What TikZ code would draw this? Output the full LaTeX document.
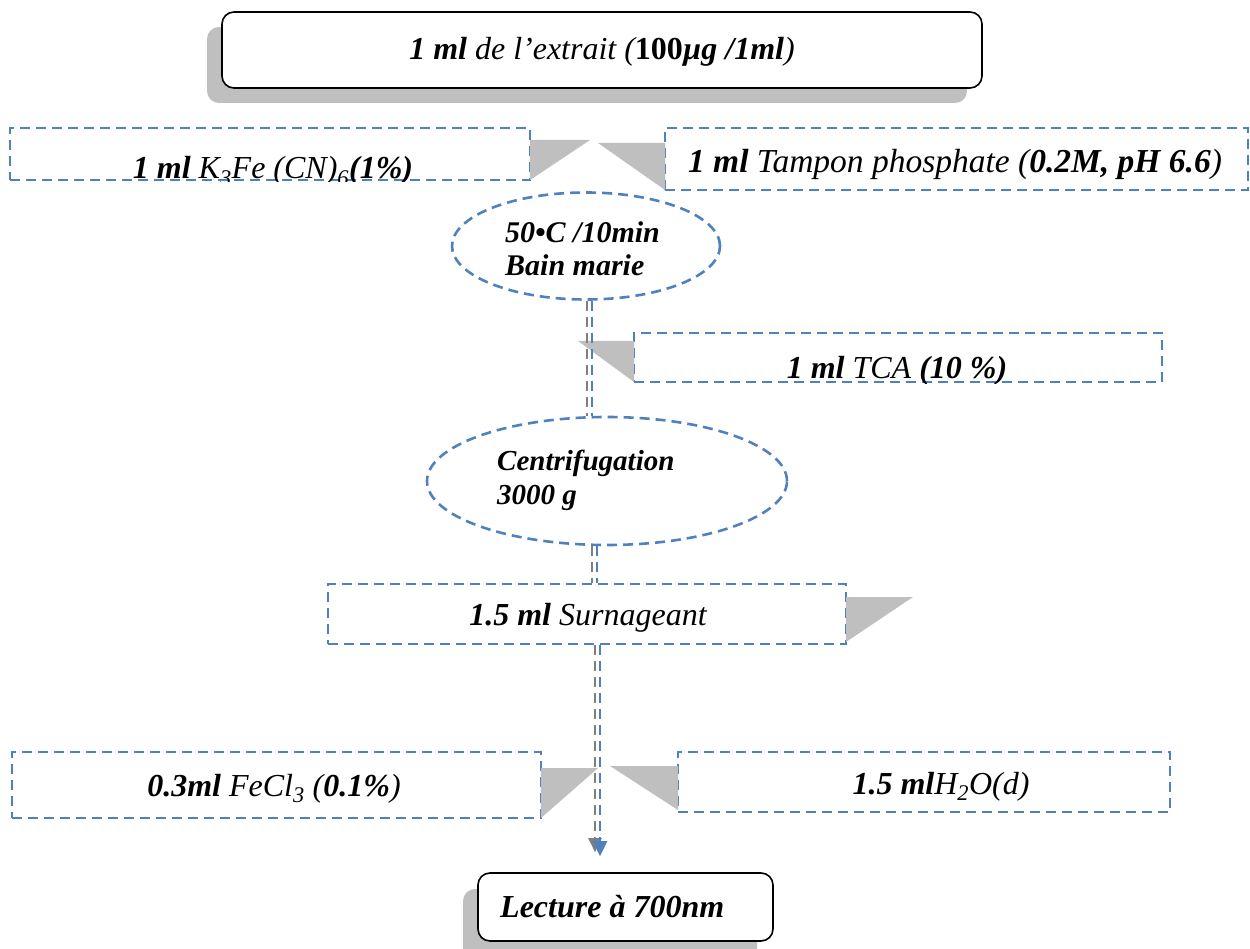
\documentclass[tikz,border=0pt]{standalone}
\usepackage{fontspec}
\setmainfont{Liberation Serif}
\usetikzlibrary{shapes.geometric,arrows.meta}
\definecolor{dblue}{HTML}{4F81BD}
\definecolor{shgray}{HTML}{BFBFBF}
\definecolor{lngray}{HTML}{7F7F7F}
\tikzset{
  dbox/.style={draw=dblue, line width=2.6pt, dash pattern=on 10pt off 6pt, rectangle, inner sep=0pt},
  dell/.style={draw=dblue, line width=2.6pt, dash pattern=on 10pt off 6pt, ellipse, inner sep=0pt},
  rbox/.style={draw=black, line width=1.6pt, rounded corners=12pt, fill=white, inner sep=0pt},
  txt/.style={inner sep=0pt, anchor=base, font=\fontsize{32}{36}\selectfont\itshape},
  etxt/.style={inner sep=0pt, align=left, font=\fontsize{30}{33}\selectfont\bfseries\itshape},
  tri/.style={fill=shgray},
  conn/.style={draw=dblue, line width=2.6pt, dash pattern=on 10pt off 6pt},
  connsh/.style={draw=lngray, line width=2.6pt, dash pattern=on 10pt off 6pt},
}
\begin{document}
\begin{tikzpicture}[x=1pt,y=-1pt]
\useasboundingbox (0,0) rectangle (1250,949);
% top box
\fill[shgray, rounded corners=12pt] (207,27) rectangle (967,103);
\node[rbox, minimum width=760pt, minimum height=76pt] (top) at (602,50) {};
\node[txt] (topt) at (602,60)
  {\textbf{1 ml} de l’extrait (\textbf{\upshape 100}\textbf{µg /1ml})};
% K3Fe box
\node[dbox, minimum width=520pt, minimum height=52pt] (k3) at (270,154) {};
\begin{scope}
  \clip (k3.north west) rectangle (k3.south east);
  \node[txt] (k3t) at (273,179) {\textbf{1 ml} K\textsubscript{3}Fe (CN)\textsubscript{6}\textbf{(1\%)}};
\end{scope}
\fill[tri] (530,140) -- (590,140) -- (530,180) -- cycle;
% Tampon box
\node[dbox, minimum width=583pt, minimum height=62pt] (tp) at (956.5,159) {};
\node[txt, font=\fontsize{33.5}{36}\selectfont\itshape] (tpt) at (955,173)
  {\textbf{1 ml} Tampon phosphate (\textbf{0.2M, pH 6.6})};
\fill[tri] (598,143) -- (665,143) -- (665,190) -- cycle;
% ellipse 1
\node[dell, minimum width=268pt, minimum height=107pt] (e1) at (586,246) {};
\node[etxt, anchor=base west] (e1t) at (505,276) {50•C /10min\\Bain marie};
% TCA box
\node[dbox, minimum width=528pt, minimum height=49pt] (tca) at (898,357.5) {};
\begin{scope}
  \clip (tca.north west) rectangle (tca.south east);
  \node[txt] (tcat) at (897,379) {\textbf{1 ml} TCA \textbf{(10 \%)}};
\end{scope}
\fill[tri] (578,341) -- (634,341) -- (634,382) -- cycle;
% ellipse 2
\node[dell, minimum width=360pt, minimum height=128pt] (e2) at (607,481) {};
\node[etxt, anchor=base west, font=\fontsize{29}{34}\selectfont\bfseries\itshape] (e2t) at (497,504) {Centrifugation\\3000 g};
\draw[connsh] ([xshift=1pt]e1.south) -- ([xshift=1pt]e1.south |- e2.north);
\draw[conn] ([xshift=6pt]e1.south) -- ([xshift=6pt]e1.south |- e2.north);
% Surnageant box
\node[dbox, minimum width=518pt, minimum height=60pt] (surn) at (587,614) {};
\node[txt] (surnt) at (588,625) {\textbf{1.5 ml} Surnageant};
\fill[tri] (846,597) -- (913,597) -- (846,642) -- cycle;
\draw[connsh] ([xshift=5pt]surn.north |- e2.south) -- ([xshift=5pt]surn.north);
\draw[conn] ([xshift=10pt]surn.north |- e2.south) -- ([xshift=10pt]surn.north);
% FeCl3 and H2O boxes
\node[dbox, minimum width=529pt, minimum height=66pt] (fe) at (276.5,785) {};
\node[txt] (fet) at (274,796) {\textbf{0.3ml} FeCl\textsubscript{3} (\textbf{0.1\%})};
\fill[tri] (541,768) -- (598,768) -- (541,818) -- cycle;
\node[dbox, minimum width=492pt, minimum height=60pt] (h2o) at (924,782) {};
\node[txt] (h2ot) at (941,794) {\textbf{1.5 ml}H\textsubscript{2}O(d)};
\fill[tri] (610,766) -- (678,766) -- (678,810) -- cycle;
% bottom box
\fill[shgray, rounded corners=12pt] (463,889) rectangle (757,960);
\node[rbox, minimum width=295pt, minimum height=68pt] (lect) at (625.5,907) {};
\node[txt, anchor=base west, font=\fontsize{32}{36}\selectfont\bfseries\itshape] (lectt) at (500,917) {Lecture à 700nm};
% connector 3 with arrow
\draw[connsh, shorten >=20pt, -{Triangle[width=13pt,length=14pt]}, lngray] ([xshift=8pt]surn.south) -- ([xshift=8pt]surn.south |- lect.north);
\draw[conn, shorten >=16pt, -{Triangle[width=14pt,length=15pt]}, dblue] ([xshift=13pt]surn.south) -- ([xshift=13pt]surn.south |- lect.north);
\end{tikzpicture}
\end{document}
